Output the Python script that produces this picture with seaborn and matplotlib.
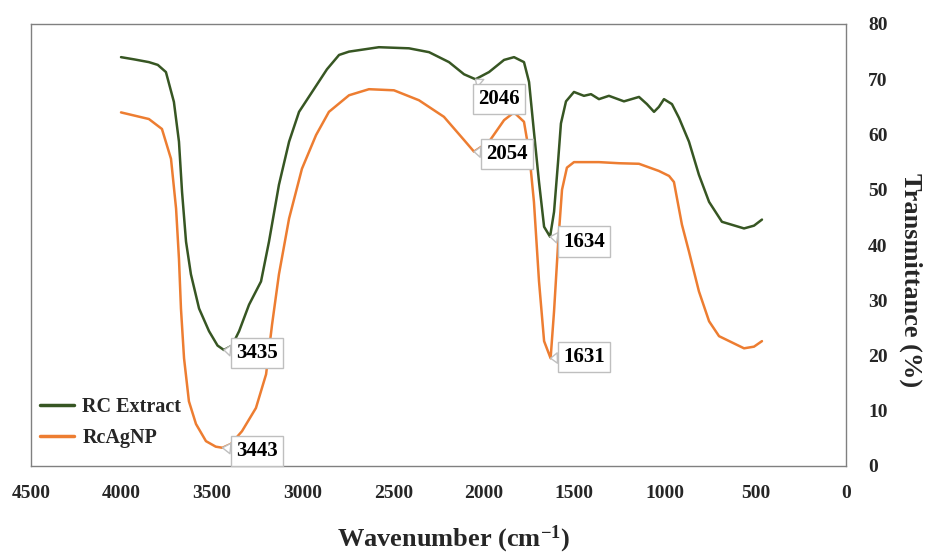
import numpy as np
import pandas as pd
import matplotlib
matplotlib.use("Agg")
import matplotlib.pyplot as plt
import seaborn as sns

# ---- data ----
rc_wn = [4003, 3931, 3849, 3800, 3755, 3711, 3683, 3666, 3644, 3617, 3572, 3517, 3470, 3435,
         3390, 3351, 3296, 3230, 3186, 3131, 3075, 3020, 2948, 2866, 2799, 2744, 2579,
         2413, 2302, 2192, 2109, 2046, 1971, 1888, 1833, 1778, 1750, 1723, 1695, 1667,
         1634, 1612, 1590, 1574, 1546, 1502, 1447, 1408, 1364, 1309, 1226, 1143, 1099,
         1060, 1033, 1005, 961, 922, 867, 812, 756, 685, 563, 508, 464]
rc_t = [74.0, 73.6, 73.1, 72.6, 71.3, 65.9, 58.7, 49.6, 40.6, 34.7, 28.5, 24.4, 21.8, 21.0,
        21.8, 24.4, 29.2, 33.4, 40.6, 50.9, 58.7, 64.1, 67.7, 71.8, 74.4, 75.0, 75.8,
        75.6, 74.9, 73.1, 70.9, 70.0, 71.3, 73.5, 74.0, 73.1, 69.5, 60.5, 51.4, 43.3,
        41.5, 46.0, 55.0, 62.0, 66.0, 67.7, 67.0, 67.3, 66.4, 67.0, 66.0, 66.8, 65.5,
        64.1, 65.0, 66.4, 65.5, 63.0, 58.7, 52.7, 47.8, 44.2, 43.0, 43.5, 44.6]

ag_wn = [4003, 3849, 3777, 3727, 3699, 3683, 3672, 3655, 3628, 3589, 3534, 3480, 3443,
         3396, 3335, 3258, 3202, 3169, 3131, 3075, 3004, 2926, 2855, 2744, 2634, 2496,
         2358, 2220, 2109, 2054, 1971, 1888, 1833, 1778, 1750, 1723, 1695, 1667, 1631,
         1612, 1590, 1568, 1541, 1502, 1364, 1253, 1143, 1033, 977, 950, 906, 867, 812,
         756, 701, 563, 508, 464]
ag_t = [64.0, 62.8, 61.0, 55.6, 46.6, 37.5, 28.5, 19.5, 11.7, 7.6, 4.5, 3.5, 3.3,
        4.0, 6.3, 10.5, 16.6, 25.6, 34.7, 44.8, 53.8, 59.9, 64.1, 67.1, 68.2, 68.0,
        66.2, 63.2, 59.0, 56.9, 58.7, 62.6, 64.0, 62.3, 56.9, 47.8, 33.4, 22.6, 19.5,
        28.0, 40.0, 50.0, 54.0, 55.0, 55.0, 54.8, 54.7, 53.4, 52.5, 51.4, 43.7, 38.8,
        31.6, 26.2, 23.5, 21.3, 21.6, 22.6]

series_names = ["RC Extract", "RcAgNP"]
series_colors = ["#375623", "#ED7D31"]

# peak callouts
peak_labels = ["3435", "3443", "2046", "2054", "1634", "1631"]
peak_x = [3435, 3443, 2046, 2054, 1634, 1631]
peak_y = [21.0, 3.3, 70.0, 56.9, 41.5, 19.5]
label_x = [3252, 3252, 1916, 1872, 1447, 1447]
label_y = [20.4, 2.7, 66.4, 56.5, 40.6, 19.7]

x_ticks = [4500, 4000, 3500, 3000, 2500, 2000, 1500, 1000, 500, 0]
y_ticks = [0, 10, 20, 30, 40, 50, 60, 70, 80]

df = pd.concat([
    pd.DataFrame({"wn": rc_wn, "T": rc_t, "series": series_names[0]}),
    pd.DataFrame({"wn": ag_wn, "T": ag_t, "series": series_names[1]}),
])

sns.set_theme(style="white")
plt.rcParams["font.family"] = ["Liberation Serif", "DejaVu Serif"]
plt.rcParams["font.weight"] = "bold"
plt.rcParams["mathtext.fontset"] = "custom"
plt.rcParams["mathtext.rm"] = "Liberation Serif:bold"
plt.rcParams["mathtext.bf"] = "Liberation Serif:bold"
plt.rcParams["mathtext.it"] = "Liberation Serif:bold"

fig = plt.figure(figsize=(9.3, 5.57), dpi=100)
ax = fig.add_axes([31 / 930, 1 - 466 / 557, 815 / 930, 442 / 557])

sns.lineplot(data=df, x="wn", y="T", hue="series", palette=series_colors,
             hue_order=series_names, linewidth=1.8, ax=ax, estimator=None, sort=True)

ax.set_xlim(4500, 0)
ax.set_ylim(0, 80)
ax.set_xticks(x_ticks)
ax.set_xticklabels([str(v) for v in x_ticks])
ax.set_yticks(y_ticks)
ax.set_yticklabels([str(v) for v in y_ticks])
ax.yaxis.tick_right()
ax.yaxis.set_label_position("right")
ax.tick_params(axis="both", length=0, labelsize=14)
ax.tick_params(axis="x", pad=14)
ax.tick_params(axis="y", pad=16)
for lab in ax.get_xticklabels() + ax.get_yticklabels():
    lab.set_fontweight("bold")

for sp in ax.spines.values():
    sp.set_visible(True)
    sp.set_color("#808080")
    sp.set_linewidth(1)

ax.set_xlabel("Wavenumber (cm$^{\\mathrm{-1}}$)", fontsize=19, fontweight="bold", va="center")
ax.xaxis.set_label_coords(0.519, -0.166)
ax.set_ylabel("Transmittance (%)", fontsize=19, fontweight="bold", rotation=-90, va="center")
ax.yaxis.set_label_coords(1.08, 0.42)

for lab, px, py, tx, ty in zip(peak_labels, peak_x, peak_y, label_x, label_y):
    ax.annotate(lab, xy=(px, py), xytext=(tx, ty), textcoords="data",
                ha="center", va="center", fontsize=15, fontweight="bold", color="black",
                bbox=dict(boxstyle="square,pad=0.25", fc="white", ec="#BFBFBF", lw=1),
                arrowprops=dict(arrowstyle="wedge,tail_width=0.5,shrink_factor=0.5",
                                fc="white", ec="#BFBFBF", lw=1, shrinkA=0, shrinkB=0))

leg = ax.legend(loc="lower left", bbox_to_anchor=(0.011, 0.04), frameon=False,
                borderaxespad=0, borderpad=0, handlelength=1.7, handletextpad=0.4,
                labelspacing=0.55, prop={"family": "Liberation Serif", "weight": "bold", "size": 14.5})
for h in leg.get_lines():
    h.set_linewidth(2.5)

fig.savefig("out.png", dpi=100, facecolor="white")
